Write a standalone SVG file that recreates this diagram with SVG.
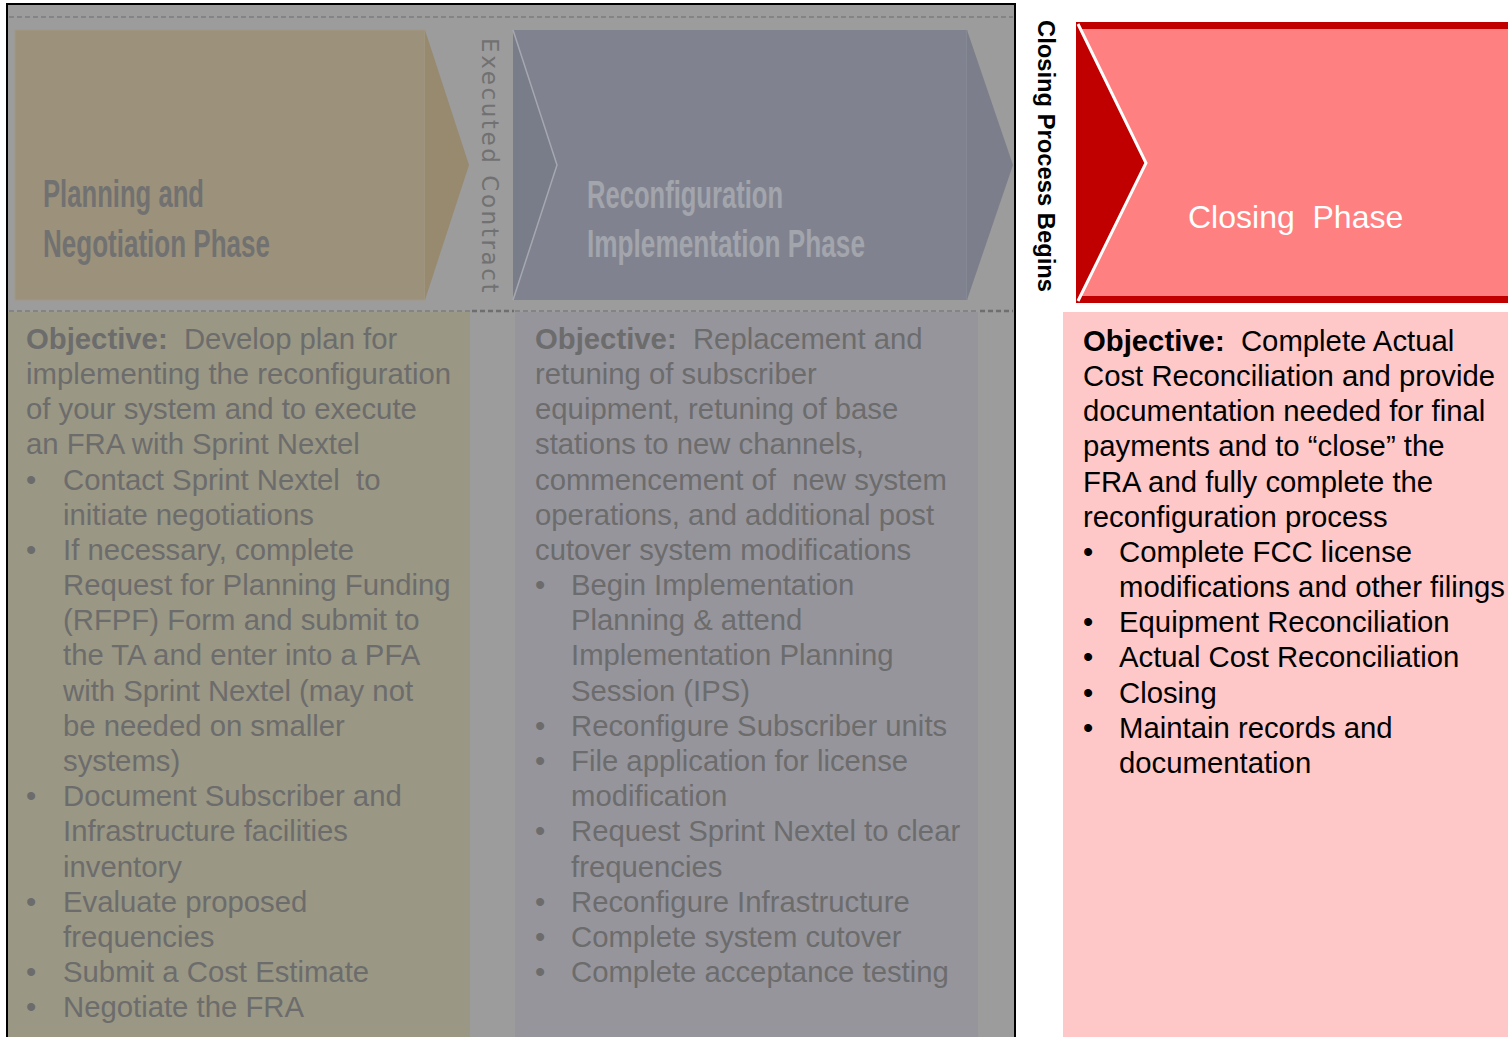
<svg xmlns="http://www.w3.org/2000/svg" width="1508" height="1037" viewBox="0 0 1508 1037">
<style>
  .body { font-family: "Liberation Sans", Arial, sans-serif; font-size: 29.3px; fill: #6c6c6c; }
  .body text { white-space: pre; }
  .dark { fill: #000000; }
  .b { font-weight: bold; }
  .head { font-family: "Liberation Sans", Arial, sans-serif; font-size: 39px; font-weight: bold; }
  .sep { stroke: #7c7c7c; stroke-width: 1.3; stroke-dasharray: 5 3; fill: none; }
  .sepb { stroke: #6e6e6e; stroke-width: 2.5; stroke-dasharray: 5 3; fill: none; }
</style>
<rect x="0" y="0" width="1508" height="1037" fill="#ffffff"/>

<!-- greyed area -->
<g id="greyed-area">
  <rect x="7" y="4" width="1008" height="1040" fill="#9c9c9c" stroke="#000000" stroke-width="2"/>
</g>

<g id="separators">
  <line class="sep" x1="9" y1="17" x2="1013" y2="17"/>
  <line class="sep" x1="9" y1="311" x2="470" y2="311"/>
  <line class="sepb" x1="472" y1="311" x2="514" y2="311"/>
  <line class="sep" x1="515" y1="311" x2="978" y2="311"/>
  <line class="sepb" x1="980" y1="311" x2="1013" y2="311"/>
</g>

<!-- Planning chevron -->
<g id="planning-phase">
  <rect x="15" y="30" width="410" height="270" fill="#9c917b" stroke="#a29884" stroke-width="1"/>
  <polygon points="425,30 469,165 425,300" fill="#978a6f"/>
  <text class="head" x="43" y="207" fill="#717171" textLength="161" lengthAdjust="spacingAndGlyphs">Planning and</text>
  <text class="head" x="43" y="257" fill="#717171" textLength="227" lengthAdjust="spacingAndGlyphs">Negotiation Phase</text>
</g>

<g id="executed-contract">
  <text transform="translate(482,38) rotate(90)" font-family="DejaVu Sans, sans-serif" font-size="23" letter-spacing="2.6" fill="#717171">Executed Contract</text>
</g>

<!-- Reconfiguration chevron -->
<g id="reconfiguration-phase">
  <rect x="513" y="30" width="454" height="270" fill="#80838f"/>
  <polygon points="513,30 557,165 513,300" fill="#797c89"/>
  <polyline points="513,30 557,165 513,300" fill="none" stroke="#a6a8b0" stroke-width="1.5"/>
  <line x1="967" y1="30" x2="967" y2="300" stroke="#8b8e99" stroke-width="1"/>
  <polygon points="967,30 1013,165 967,300" fill="#7c7f8b"/>
  <text class="head" x="587" y="208" fill="#a3a5ad" textLength="196" lengthAdjust="spacingAndGlyphs">Reconfiguration</text>
  <text class="head" x="587" y="257" fill="#a3a5ad" textLength="278" lengthAdjust="spacingAndGlyphs">Implementation Phase</text>
</g>

<g id="closing-process-begins">
  <text transform="translate(1038,20) rotate(90)" font-family="Liberation Sans, Arial, sans-serif" font-size="24" font-weight="bold" fill="#000000" textLength="272" lengthAdjust="spacingAndGlyphs">Closing Process Begins</text>
</g>

<!-- Closing chevron -->
<g id="closing-phase">
  <rect x="1076" y="22" width="432" height="281" fill="#c00000"/>
  <polygon points="1080,29 1508,29 1508,296 1080,296 1146,163" fill="#ff8080"/>
  <polyline points="1078,24 1146,163 1078,301" fill="none" stroke="#ffffff" stroke-width="3"/>
  <text x="1188" y="228" font-family="Liberation Sans, Arial, sans-serif" font-size="32" fill="#ffffff" style="white-space:pre">Closing  Phase</text>
</g>

<!-- Planning body -->
<g id="planning-objective">
  <rect x="8" y="312" width="462" height="730" fill="#9a9784"/>
  <g class="body">
    <text x="26" y="349"><tspan class="b">Objective:</tspan>  Develop plan for</text>
    <text x="26" y="384">implementing the reconfiguration</text>
    <text x="26" y="419">of your system and to execute</text>
    <text x="26" y="454">an FRA with Sprint Nextel</text>
    <text x="26" y="490">•</text><text x="63" y="490">Contact Sprint Nextel  to</text>
    <text x="63" y="525">initiate negotiations</text>
    <text x="26" y="560">•</text><text x="63" y="560">If necessary, complete</text>
    <text x="63" y="595">Request for Planning Funding</text>
    <text x="63" y="630">(RFPF) Form and submit to</text>
    <text x="63" y="665">the TA and enter into a PFA</text>
    <text x="63" y="701">with Sprint Nextel (may not</text>
    <text x="63" y="736">be needed on smaller</text>
    <text x="63" y="771">systems)</text>
    <text x="26" y="806">•</text><text x="63" y="806">Document Subscriber and</text>
    <text x="63" y="841">Infrastructure facilities</text>
    <text x="63" y="877">inventory</text>
    <text x="26" y="912">•</text><text x="63" y="912">Evaluate proposed</text>
    <text x="63" y="947">frequencies</text>
    <text x="26" y="982">•</text><text x="63" y="982">Submit a Cost Estimate</text>
    <text x="26" y="1017">•</text><text x="63" y="1017">Negotiate the FRA</text>
  </g>
</g>

<!-- Reconfiguration body -->
<g id="reconfiguration-objective">
  <rect x="515" y="312" width="463" height="730" fill="#96959c"/>
  <g class="body">
    <text x="535" y="349"><tspan class="b">Objective:</tspan>  Replacement and</text>
    <text x="535" y="384">retuning of subscriber</text>
    <text x="535" y="419">equipment, retuning of base</text>
    <text x="535" y="454">stations to new channels,</text>
    <text x="535" y="490">commencement of  new system</text>
    <text x="535" y="525">operations, and additional post</text>
    <text x="535" y="560">cutover system modifications</text>
    <text x="535" y="595">•</text><text x="571" y="595">Begin Implementation</text>
    <text x="571" y="630">Planning &amp; attend</text>
    <text x="571" y="665">Implementation Planning</text>
    <text x="571" y="701">Session (IPS)</text>
    <text x="535" y="736">•</text><text x="571" y="736">Reconfigure Subscriber units</text>
    <text x="535" y="771">•</text><text x="571" y="771">File application for license</text>
    <text x="571" y="806">modification</text>
    <text x="535" y="841">•</text><text x="571" y="841">Request Sprint Nextel to clear</text>
    <text x="571" y="877">frequencies</text>
    <text x="535" y="912">•</text><text x="571" y="912">Reconfigure Infrastructure</text>
    <text x="535" y="947">•</text><text x="571" y="947">Complete system cutover</text>
    <text x="535" y="982">•</text><text x="571" y="982">Complete acceptance testing</text>
  </g>
</g>

<!-- Closing body -->
<g id="closing-objective">
  <rect x="1063" y="312" width="445" height="730" fill="#ffc8c8"/>
  <g class="body dark">
    <text x="1083" y="351"><tspan class="b">Objective:</tspan>  Complete Actual</text>
    <text x="1083" y="386">Cost Reconciliation and provide</text>
    <text x="1083" y="421">documentation needed for final</text>
    <text x="1083" y="456">payments and to “close” the</text>
    <text x="1083" y="492">FRA and fully complete the</text>
    <text x="1083" y="527">reconfiguration process</text>
    <text x="1083" y="562">•</text><text x="1119" y="562">Complete FCC license</text>
    <text x="1119" y="597">modifications and other filings</text>
    <text x="1083" y="632">•</text><text x="1119" y="632">Equipment Reconciliation</text>
    <text x="1083" y="667">•</text><text x="1119" y="667">Actual Cost Reconciliation</text>
    <text x="1083" y="703">•</text><text x="1119" y="703">Closing</text>
    <text x="1083" y="738">•</text><text x="1119" y="738">Maintain records and</text>
    <text x="1119" y="773">documentation</text>
  </g>
</g>
</svg>
